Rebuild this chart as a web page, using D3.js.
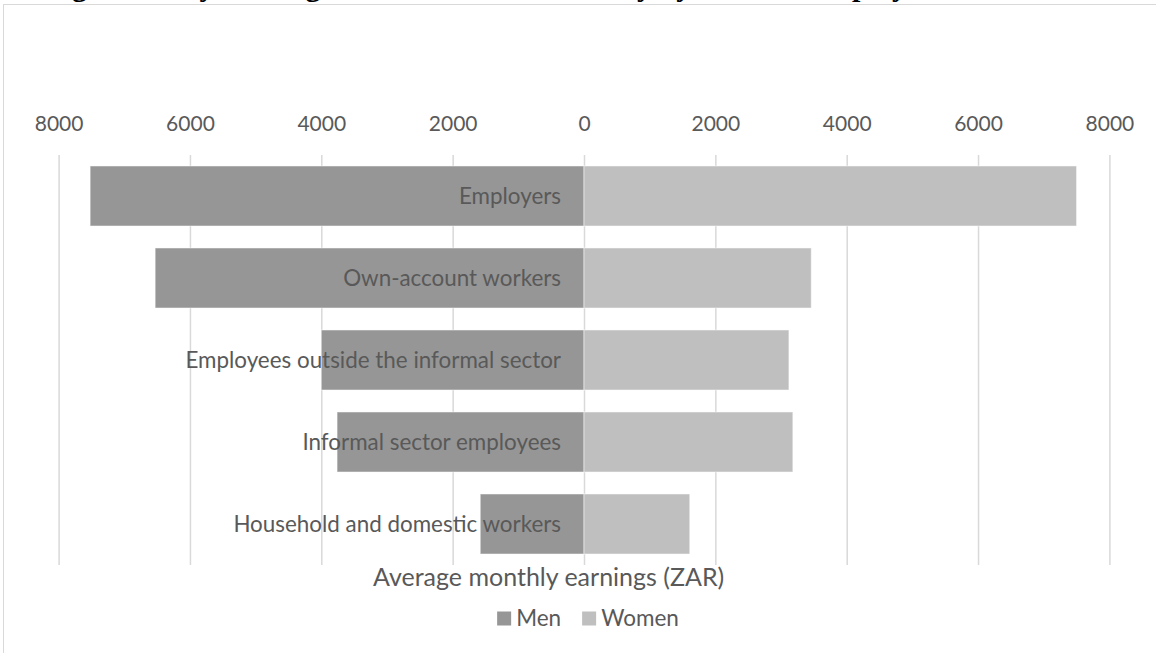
<!DOCTYPE html>
<html>
<head>
<meta charset="utf-8">
<script src="https://cdn.jsdelivr.net/npm/d3@7"></script>
<style>
  body { margin: 0; background: #fff; }
  text { font-family: Lato, "Open Sans", sans-serif; fill: #595959; }
</style>
</head>
<body>
<div id="chart"></div>
<script>
// Data
const categories = ["Employers", "Own-account workers", "Employees outside the informal sector",
                    "Informal sector employees", "Household and domestic workers"];
const men = [7520, 6530, 4000, 3760, 1580];
const women = [7500, 3460, 3120, 3180, 1610];
const tickValues = [-8000, -6000, -4000, -2000, 0, 2000, 4000, 6000, 8000];
const seriesNames = ["Men", "Women"];
const colors = ["#969696", "#bfbfbf"];

const W = 1156, H = 653;
const svg = d3.select("#chart").append("svg")
    .attr("width", W)
    .attr("height", H);

// Title of the figure, mostly cut off at the top edge (as in the source)
svg.append("text")
    .attr("x", -4)
    .attr("y", -4)
    .style("font-family", "'Liberation Serif', serif")
    .style("font-weight", "bold")
    .style("font-size", "30px")
    .style("fill", "#000")
    .text("Average monthly earnings in the informal economy by status in employment");

// chart border
svg.append("rect")
    .attr("x", 3.5).attr("y", 4.5)
    .attr("width", W + 10).attr("height", H + 10)
    .attr("fill", "none")
    .attr("stroke", "#d9d9d9");

const plotTop = 155, plotBottom = 565;

const x = d3.scaleLinear()
    .domain([-8000, 8000])
    .range([58.6, 1109.4]);

const y = d3.scaleBand()
    .domain(categories)
    .range([plotTop, plotBottom])
    .paddingInner(0.268)
    .paddingOuter(0.134);

// gridlines
const grid = svg.append("g")
    .attr("transform", `translate(0,${plotTop})`)
    .call(d3.axisBottom(x).tickValues(tickValues).tickSize(plotBottom - plotTop).tickFormat(""));
grid.select(".domain").remove();
grid.selectAll("line").attr("stroke", "#d9d9d9").attr("stroke-width", 1.5);

// tick labels
const ax = svg.append("g")
    .attr("transform", "translate(0,131)")
    .call(d3.axisTop(x).tickValues(tickValues).tickSize(0).tickPadding(0)
        .tickFormat(d => Math.abs(d)));
ax.select(".domain").remove();
ax.selectAll("text")
    .style("font-size", "21px")
    .style("fill", "#595959")
    .style("font-family", "Lato, sans-serif");

// bars
const rows = categories.map((c, i) => ({cat: c, men: men[i], women: women[i]}));

svg.append("g").selectAll("rect")
    .data(rows)
    .join("rect")
    .attr("x", d => x(-d.men))
    .attr("y", d => y(d.cat))
    .attr("width", d => x(0) - x(-d.men))
    .attr("height", y.bandwidth())
    .attr("fill", colors[0])
    .attr("stroke", "#fff")
    .attr("stroke-opacity", 0.5);

svg.append("g").selectAll("rect")
    .data(rows)
    .join("rect")
    .attr("x", x(0))
    .attr("y", d => y(d.cat))
    .attr("width", d => x(d.women) - x(0))
    .attr("height", y.bandwidth())
    .attr("fill", colors[1])
    .attr("stroke", "#fff")
    .attr("stroke-opacity", 0.5);

// category labels
svg.append("g").selectAll("text")
    .data(categories)
    .join("text")
    .attr("x", 561)
    .attr("y", d => y(d) + y.bandwidth() / 2)
    .attr("dy", "0.35em")
    .attr("text-anchor", "end")
    .style("font-size", "22.4px")
    .text(d => d);

// axis title (sits a bit left of the zero line in the source)
svg.append("text")
    .attr("x", 373)
    .attr("y", 577)
    .attr("dy", "0.35em")
    .style("font-size", "25px")
    .text("Average monthly earnings (ZAR)");

// legend
const legend = svg.append("g");
const items = legend.selectAll("g")
    .data(seriesNames)
    .join("g");
items.append("rect")
    .attr("width", 14).attr("height", 14)
    .attr("y", 611.5)
    .attr("fill", (d, i) => colors[i]);
items.append("text")
    .attr("x", 19)
    .attr("y", 618.5)
    .attr("dy", "0.35em")
    .style("font-size", "22.5px")
    .text(d => d);

const widths = [];
items.each(function() {
    widths.push(19 + d3.select(this).select("text").node().getComputedTextLength());
});
const gap = 21;
const total = d3.sum(widths) + gap * (widths.length - 1);
let lx = x(0) + 4 - total / 2;
items.attr("transform", (d, i) => {
    const t = `translate(${lx},0)`;
    lx += widths[i] + gap;
    return t;
});
</script>
</body>
</html>
